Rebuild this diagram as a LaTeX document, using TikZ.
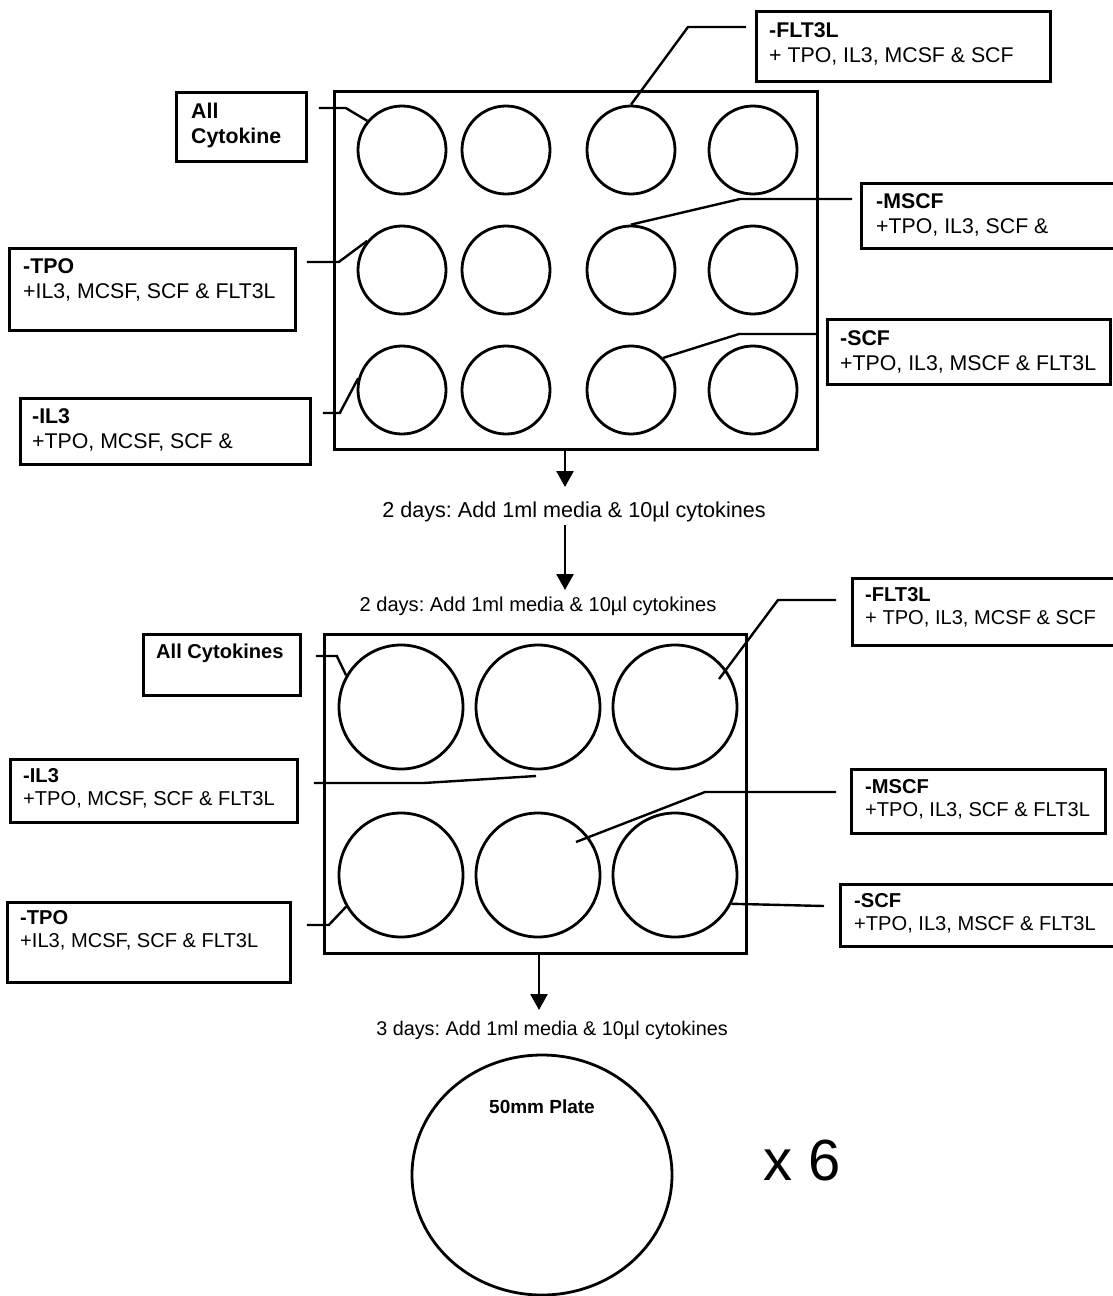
\documentclass[tikz,border=0pt]{standalone}
\usepackage{fontspec}
\setmainfont{Liberation Sans}
\usetikzlibrary{shapes.geometric,arrows.meta,calc}
\frenchspacing
\newcommand{\lblfont}{\fontsize{21.3}{25}\selectfont}
\newcommand{\lblfontB}{\fontsize{20.1}{23.7}\selectfont}
\newcommand{\flowfont}{\fontsize{21.6}{26}\selectfont}
\tikzstyle{line} = [draw, line width=2.6pt, -{Triangle[length=16pt,width=17pt]}]
\tikzstyle{lead} = [draw, line width=2.4pt]
\tikzstyle{box} = [draw, rectangle, anchor=north west, inner sep=0pt, line width=2.8pt]
\tikzstyle{well} = [draw, circle, inner sep=0pt, line width=2.8pt]
\tikzstyle{lbltxt} = [anchor=north west, align=left, inner sep=0pt, font=\lblfont]
\tikzstyle{flowtxt} = [anchor=base, font=\flowfont]

\begin{document}
\begin{tikzpicture}[x=1pt, y=-1pt]
    \useasboundingbox (0,0) rectangle (1112,1296);
    % 12 well plate
    \node[box, line width=3pt, minimum width=483pt, minimum height=358pt] (topplate) at (333,90) {};
    \foreach \x/\c in {402/1,506/2,631/3,753/4}
        \foreach \y/\r in {150/1,270/2,390/3}
            \node[well, minimum size=88pt] (a\r\c) at (\x,\y) {};
    \node[box, minimum width=294pt, minimum height=70pt] (fltA) at (755,10) {};
    \node[lbltxt] (fltAtxt) at ($(fltA.north west)+(14,12)$) {\textbf{-FLT3L}\\+ TPO, IL3, MCSF \& SCF};
    \node[box, minimum width=130pt, minimum height=69pt] (allA) at (175,91) {};
    \node[lbltxt] (allAtxt) at ($(allA.north west)+(16,12)$) {\textbf{All}\\\textbf{Cytokine}};
    \node[box, minimum width=270pt, minimum height=65pt] (mscfA) at (860,182) {};
    \node[lbltxt] (mscfAtxt) at ($(mscfA.north west)+(16,11)$) {\textbf{-MSCF}\\+TPO, IL3, SCF \&};
    \node[box, minimum width=286pt, minimum height=82pt] (tpoA) at (8,247) {};
    \node[lbltxt] (tpoAtxt) at ($(tpoA.north west)+(15,11)$) {\textbf{-TPO}\\+IL3, MCSF, SCF \& FLT3L};
    \node[box, minimum width=283pt, minimum height=65pt] (scfA) at (826,318) {};
    \node[lbltxt] (scfAtxt) at ($(scfA.north west)+(14,12)$) {\textbf{-SCF}\\+TPO, IL3, MSCF \& FLT3L};
    \node[box, minimum width=290pt, minimum height=66pt] (il3A) at (19,397) {};
    \node[lbltxt] (il3Atxt) at ($(il3A.north west)+(13,11)$) {\textbf{-IL3}\\+TPO, MCSF, SCF \&};
    \draw[lead] (fltA.north west) ++(-9,17) -- ++(-58,0) -- (a13.north);
    \draw[lead] (allA.north east) ++(11,17) -- ++(27,0) -- (a11.140);
    \draw[lead] (mscfA.north west) ++(-8,17) -- ++(-112,0) -- (a23.north);
    \draw[lead] (tpoA.north east) ++(10,15) -- ++(32,0) -- (a21.140);
    \draw[lead] (scfA.north west) ++(-10,16) -- ++(-77,0) -- (a33.45);
    \draw[lead] (il3A.north east) ++(11,16) -- ++(17,0) -- (a31.165);
    % feeding steps
    \node[flowtxt] (day1) at (574,517) {2 days: Add 1ml media \& 10µl cytokines};
    \node[flowtxt, font=\lblfontB] (day2) at (538,611) {2 days: Add 1ml media \& 10µl cytokines};
    \coordinate (d1) at (565,487);
    \coordinate (d2) at (565,590);
    \path[line] (topplate.south -| d1) -- (d1);
    \path[line] (day1.south -| d2) -- (d2);
    % 6 well plate
    \node[box, line width=3pt, minimum width=422pt, minimum height=319pt] (botplate) at (323,633) {};
    \foreach \x/\c in {401/1,538/2,675/3}
        \foreach \y/\r in {707/1,875/2}
            \node[well, minimum size=124pt] (b\r\c) at (\x,\y) {};
    \node[box, minimum width=157pt, minimum height=61pt] (allB) at (142,633) {};
    \node[lbltxt, font=\lblfontB\bfseries] (allBtxt) at ($(allB.north west)+(14,11)$) {All Cytokines};
    \node[box, minimum width=270pt, minimum height=67pt] (fltB) at (851,577) {};
    \node[lbltxt, font=\lblfontB] (fltBtxt) at ($(fltB.north west)+(14,10)$) {\textbf{-FLT3L}\\+ TPO, IL3, MCSF \& SCF};
    \node[box, minimum width=287pt, minimum height=63pt] (il3B) at (9,758) {};
    \node[lbltxt, font=\lblfontB] (il3Btxt) at ($(il3B.north west)+(14,10)$) {\textbf{-IL3}\\+TPO, MCSF, SCF \& FLT3L};
    \node[box, minimum width=254pt, minimum height=64pt] (mscfB) at (850,768) {};
    \node[lbltxt, font=\lblfontB] (mscfBtxt) at ($(mscfB.north west)+(15,11)$) {\textbf{-MSCF}\\+TPO, IL3, SCF \& FLT3L};
    \node[box, minimum width=283pt, minimum height=80pt] (tpoB) at (6,901) {};
    \node[lbltxt, font=\lblfontB] (tpoBtxt) at ($(tpoB.north west)+(14,9)$) {\textbf{-TPO}\\+IL3, MCSF, SCF \& FLT3L};
    \node[box, minimum width=280pt, minimum height=62pt] (scfB) at (839,883) {};
    \node[lbltxt, font=\lblfontB] (scfBtxt) at ($(scfB.north west)+(15,10)$) {\textbf{-SCF}\\+TPO, IL3, MSCF \& FLT3L};
    \coordinate (gapB) at (536,776);
    \draw[lead] (allB.north east) ++(14,23) -- ++(21,0) -- (b11.150);
    \draw[lead] (fltB.north west) ++(-15,23) -- ++(-58,0) -- ($(b13)+(44,-28)$);
    \draw[lead] (il3B.north east) ++(15,25) -- ++(110,0) -- (gapB);
    \draw[lead] (mscfB.north west) ++(-14,24) -- ++(-131,0) -- ($(b22)+(38,-33)$);
    \draw[lead] (tpoB.north east) ++(15,24) -- ++(22,0) -- (b21.210);
    \draw[lead] (scfB.north west) ++(-15,23) -- (b23.-27);
    % final plates
    \node[flowtxt, font=\fontsize{19.8}{24}\selectfont] (day3) at (552,1035) {3 days: Add 1ml media \& 10µl cytokines};
    \coordinate (d3) at (539,1010);
    \path[line] (botplate.south -| d3) -- (d3);
    \node[draw, ellipse, line width=2.8pt, inner sep=0pt, minimum width=260pt, minimum height=240pt] (dish) at (542,1175) {};
    \node[anchor=base, font=\fontsize{19}{22}\selectfont\bfseries] (dishlbl) at (542,1113) {50mm Plate};
    \node[anchor=base west, inner sep=0pt, font=\fontsize{58}{60}\selectfont] (times) at (763,1180) {x 6};
\end{tikzpicture}
\end{document}
